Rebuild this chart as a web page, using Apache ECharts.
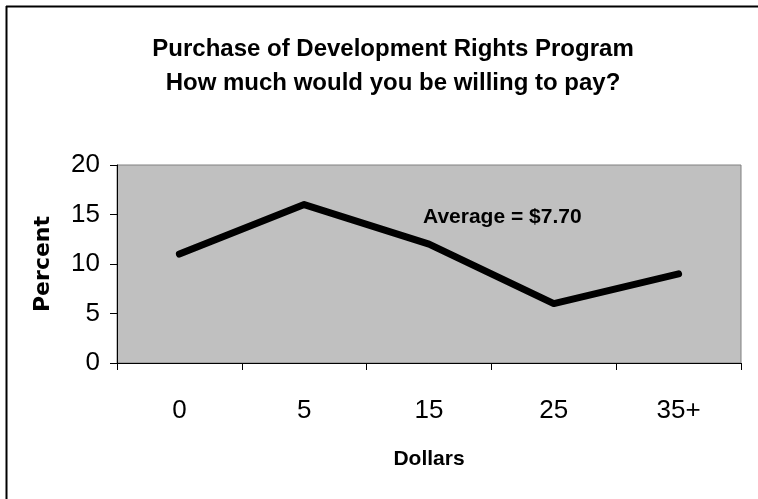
<!DOCTYPE html>
<html>
<head>
<meta charset="utf-8">
<script src="https://cdn.jsdelivr.net/npm/echarts@6/dist/echarts.min.js"></script>
<style>
html,body{margin:0;padding:0;background:#fff;}
#chart{width:758px;height:499px;}
</style>
</head>
<body>
<div id="chart"></div>
<script>
const categories = ['0', '5', '15', '25', '35+'];
const percentValues = [11, 16, 12, 6, 9];
const yTicks = { min: 0, max: 20, interval: 5 };
const titleLines = ['Purchase of Development Rights Program', 'How much would you be willing to pay?'];
const annotationText = 'Average = $7.70';

const chart = echarts.init(document.getElementById('chart'), null, { renderer: 'canvas' });
const FONT = '"Liberation Sans", Arial, sans-serif';

chart.setOption({
  backgroundColor: '#ffffff',
  animation: false,
  title: {
    text: titleLines.join('\n'),
    left: 388,
    textAlign: 'center',
    top: 27,
    textStyle: { fontFamily: FONT, fontSize: 24, fontWeight: 'bold', color: '#000', lineHeight: 34 }
  },
  grid: {
    left: 117, right: 17, top: 165, bottom: 136,
    show: true, backgroundColor: '#c0c0c0', borderColor: '#808080', borderWidth: 1
  },
  xAxis: {
    type: 'category',
    data: categories,
    boundaryGap: true,
    name: 'Dollars',
    nameLocation: 'middle',
    nameGap: 86,
    nameTextStyle: { fontFamily: FONT, fontSize: 21, fontWeight: 'bold', color: '#000' },
    axisLine: { lineStyle: { color: '#000', width: 1 } },
    axisTick: { show: true, length: 7, lineStyle: { color: '#000' } },
    axisLabel: { fontFamily: FONT, fontSize: 26, color: '#000', margin: 35 },
    splitLine: { show: false }
  },
  yAxis: {
    type: 'value',
    min: yTicks.min, max: yTicks.max, interval: yTicks.interval,
    name: 'Percent',
    nameLocation: 'middle',
    nameRotate: 90,
    nameGap: 63,
    nameTextStyle: { fontFamily: '"DejaVu Sans", sans-serif', fontSize: 22, fontWeight: 'bold', color: '#000' },
    axisLine: { show: true, lineStyle: { color: '#000', width: 1 } },
    axisTick: { show: true, length: 7, lineStyle: { color: '#000' } },
    axisLabel: { fontFamily: FONT, fontSize: 26, color: '#000', margin: 17 },
    splitLine: { show: false }
  },
  series: [{
    type: 'line',
    data: percentValues,
    symbol: 'none',
    lineStyle: { color: '#000', width: 7, cap: 'round', join: 'round' }
  }],
  graphic: [
    { type: 'line', shape: { x1: 6, y1: 6.5, x2: 758, y2: 6.5 }, style: { stroke: '#000', lineWidth: 2 } },
    { type: 'line', shape: { x1: 6.5, y1: 6, x2: 6.5, y2: 499 }, style: { stroke: '#000', lineWidth: 2 } },
    { type: 'text', left: 423, top: 207, style: { text: annotationText, font: 'bold 21px "Liberation Sans", Arial, sans-serif', fill: '#000' } }
  ]
});
</script>
</body>
</html>
